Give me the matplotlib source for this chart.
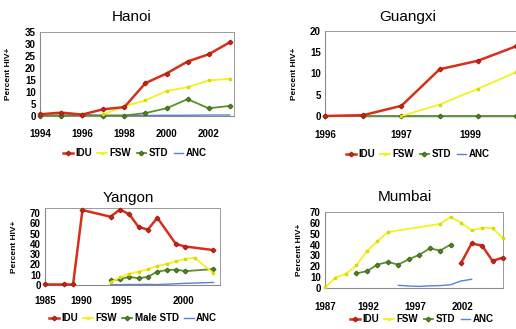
import matplotlib
matplotlib.use("Agg")
import matplotlib.pyplot as plt
from matplotlib.lines import Line2D

plt.rcParams['font.family'] = ['Liberation Sans', 'DejaVu Sans']

# ---------------- data ----------------
hanoi_years = [1994, 1995, 1996, 1997, 1998, 1999, 2000, 2001, 2002, 2003]
hanoi_idu = [0.5, 1.2, 0.4, 2.6, 3.5, 13.5, 17.5, 22.5, 25.5, 30.5]
hanoi_fsw_years = [1997, 1998, 1999, 2000, 2001, 2002, 2003]
hanoi_fsw = [0.5, 3.8, 6.3, 10.2, 11.8, 14.6, 15.3]
hanoi_std = [0, 0, 0.3, 0, 0, 1, 3, 6.8, 3, 4]
hanoi_anc = [0, 0, 0, 0, 0, 0, 0.1, 0.1, 0.2, 0.2]
hanoi_ticks = ['1994', '1996', '1998', '2000', '2002']

gx_idx = [0, 1, 2, 3, 4, 5]
gx_idu = [0, 0.2, 2.4, 11, 13, 16.4]
gx_fsw_idx = [2, 3, 4, 5]
gx_fsw = [0, 2.7, 6.4, 10.3]
gx_std = [0, 0, 0, 0, 0, 0]
gx_anc_idx = [1, 2, 3, 4, 5]
gx_anc = [0, 0, 0, 0, 0]
gx_ticks = ['1996', '1997', '1999']

yg_idu_years = [1985, 1987, 1988, 1989, 1992, 1993, 1994, 1995, 1996, 1997, 1999, 2000, 2003]
yg_idu = [0.5, 0.5, 0.5, 73, 66.5, 73.5, 69, 56.5, 54, 65.5, 39.8, 37.5, 34]
yg_fsw_years = [1992, 1993, 1994, 1995, 1996, 1997, 1998, 1999, 2000, 2001, 2003]
yg_fsw = [2.5, 7.5, 11, 13, 15.5, 18.5, 20.5, 23, 25.5, 26.5, 11.5]
yg_std_years = [1992, 1993, 1994, 1995, 1996, 1997, 1998, 1999, 2000, 2003]
yg_std = [4.5, 5.5, 8, 6.5, 8, 13, 14.5, 15, 13.5, 15.5]
yg_anc_years = [1992, 1993, 1994, 1995, 1996, 1997, 1998, 1999, 2000, 2003]
yg_anc = [0.3, 0.3, 0.5, 0.5, 0.6, 0.4, 0.8, 1.2, 1.6, 2.5]
yg_ticks = ['1985', '1990', '1995', '2000']

mb_fsw_years = [1987, 1988, 1989, 1990, 1991, 1992, 1993, 1998, 1999, 2000, 2001, 2002, 2003, 2004]
mb_fsw = [0.5, 9.5, 13, 21, 34, 43, 51.5, 59, 65.5, 60, 53, 55.5, 55, 46]
mb_std_years = [1990, 1991, 1992, 1993, 1994, 1995, 1996, 1997, 1998, 1999]
mb_std = [13.5, 15.5, 21.5, 24, 21.5, 26.5, 30.5, 36.5, 34.5, 40]
mb_idu_years = [2000, 2001, 2002, 2003, 2004]
mb_idu = [23, 41, 39, 25, 28]
mb_anc_years = [1994, 1995, 1996, 1997, 1998, 1999, 2000, 2001]
mb_anc = [2.5, 1.8, 1.5, 2, 2.2, 3, 6.5, 8]
mb_ticks = ['1987', '1992', '1997', '2002']

# ---------------- style ----------------
RED = '#d6301d'
RED_E = '#a81c10'
YEL = '#f2f21e'
GRN = '#5e8f2c'
GRN_E = '#3f6a1a'
BLU = '#5b7fd6'

W, H = 516, 329
fig = plt.figure(figsize=(W / 100, H / 100), dpi=100)
fig.patch.set_facecolor('white')


def px_axes(l, t, r, b):
    return fig.add_axes([l / W, 1 - b / H, (r - l) / W, (b - t) / H])


def style(ax, yticks, xticks, xlabels, width_px, ylab_off, xpad):
    for s in ['left', 'bottom']:
        ax.spines[s].set_color('#8a8a8a')
        ax.spines[s].set_linewidth(0.8)
    for s in ['top', 'right']:
        ax.spines[s].set_color('#9a9a9a')
        ax.spines[s].set_linewidth(0.7)
        ax.spines[s].set_linestyle((0, (1, 1)))
    ax.set_yticks(yticks)
    ax.set_xticks(xticks)
    ax.set_xticklabels(xlabels)
    ax.tick_params(axis='y', length=0, labelsize=7, pad=3)
    ax.tick_params(axis='x', length=0, labelsize=7, pad=xpad)
    for lab in ax.get_xticklabels() + ax.get_yticklabels():
        lab.set_fontweight('bold')
    ax.set_ylabel('Percent HIV+', fontsize=6, fontweight='bold')
    ax.yaxis.set_label_coords(-ylab_off / width_px, 0.5)


def idu(ax, x, y):
    ax.plot(x, y, color=RED, lw=1.8, marker='D', ms=2.3, mfc=RED, mec=RED_E, zorder=5, clip_on=False)


def fsw(ax, x, y):
    ax.plot(x, y, color=YEL, lw=1.3, marker='s', ms=1.8, mfc=YEL, mec='#d8d800', zorder=4, clip_on=False)


def std(ax, x, y):
    ax.plot(x, y, color=GRN, lw=1.3, marker='D', ms=2.3, mfc=GRN, mec=GRN_E, zorder=3, clip_on=False)


def anc(ax, x, y):
    ax.plot(x, y, color=BLU, lw=1.0, zorder=2, clip_on=False)


def legend(cx, cy, std_label):
    handles = [Line2D([], [], color=RED, lw=1.8, marker='D', ms=2.3, mec=RED_E),
               Line2D([], [], color=YEL, lw=1.3, marker='s', ms=1.8),
               Line2D([], [], color=GRN, lw=1.3, marker='D', ms=2.3, mec=GRN_E),
               Line2D([], [], color=BLU, lw=1.0)]
    labels = ['IDU', 'FSW', std_label, 'ANC']
    fig.legend(handles, labels, loc='center', bbox_to_anchor=(cx / W, 1 - cy / H),
               ncol=4, frameon=False, handlelength=1.0, handletextpad=0.25,
               columnspacing=0.55, prop={'size': 7, 'weight': 'bold'})


# Hanoi
ax = px_axes(40, 31.5, 234, 115.5)
idu(ax, hanoi_years, hanoi_idu)
fsw(ax, hanoi_fsw_years, hanoi_fsw)
std(ax, hanoi_years, hanoi_std)
anc(ax, hanoi_years, hanoi_anc)
ax.set_xlim(1994, 2003.2)
ax.set_ylim(0, 35)
style(ax, range(0, 36, 5), [1994, 1996, 1998, 2000, 2002], hanoi_ticks, 194, 28, 10)
fig.text(132 / W, 1 - 17 / H, 'Hanoi', fontsize=11, ha='center', va='center')
legend(135, 153, 'STD')

# Guangxi
ax = px_axes(325, 31, 518, 116)
idu(ax, gx_idx, gx_idu)
fsw(ax, gx_fsw_idx, gx_fsw)
std(ax, gx_idx, gx_std)
anc(ax, gx_anc_idx, gx_anc)
ax.set_xlim(0, 5.05)
ax.set_ylim(0, 20)
style(ax, range(0, 21, 5), [0, 2, 3.8], gx_ticks, 193, 27, 10)
fig.text(408 / W, 1 - 17 / H, 'Guangxi', fontsize=11, ha='center', va='center')
legend(418, 154, 'STD')

# Yangon
ax = px_axes(45, 208, 220, 285)
idu(ax, yg_idu_years, yg_idu)
fsw(ax, yg_fsw_years, yg_fsw)
std(ax, yg_std_years, yg_std)
anc(ax, yg_anc_years, yg_anc)
ax.set_xlim(1985, 2003.7)
ax.set_ylim(0, 75)
style(ax, range(0, 71, 10), [1985, 1988.9, 1993.2, 1999.8], yg_ticks, 175, 27, 8)
fig.text(128 / W, 1 - 198 / H, 'Yangon', fontsize=11, ha='center', va='center')
legend(133, 318, 'Male STD')

# Mumbai
ax = px_axes(325, 212, 503, 288)
fsw(ax, mb_fsw_years, mb_fsw)
std(ax, mb_std_years, mb_std)
idu(ax, mb_idu_years, mb_idu)
anc(ax, mb_anc_years, mb_anc)
ax.set_xlim(1987, 2004)
ax.set_ylim(0, 70)
style(ax, range(0, 71, 10), [1987, 1991.1, 1995.6, 2000.1], mb_ticks, 178, 22, 10)
fig.text(405 / W, 1 - 197 / H, 'Mumbai', fontsize=11, ha='center', va='center')
legend(422, 319, 'STD')

fig.savefig('out.png', dpi=100)
